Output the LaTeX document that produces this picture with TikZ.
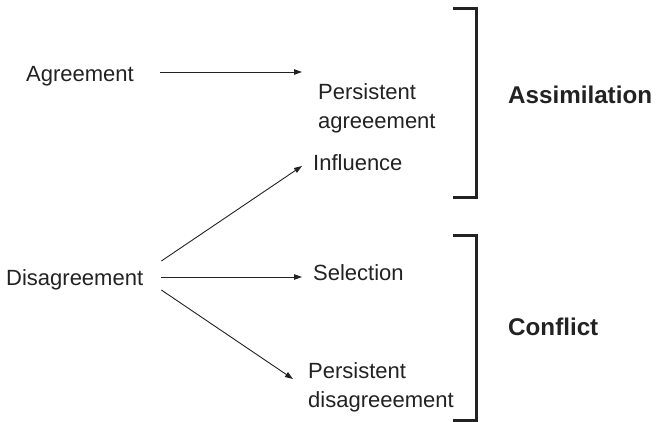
\documentclass[tikz,border=0pt]{standalone}
\usepackage{fontspec}
\setmainfont{Liberation Sans}
\usetikzlibrary{arrows.meta}
\definecolor{ink}{HTML}{222222}
\tikzset{
  txt/.style={inner sep=0pt, anchor=west, align=left, text=ink, font=\fontsize{22}{29}\selectfont},
  lbl/.style={inner sep=0pt, anchor=west, text=ink, font=\fontsize{24.2}{28}\selectfont\bfseries},
  arr/.style={draw=ink, line width=0.9pt, -{Triangle[length=8pt,width=5.5pt]}},
  br/.style={draw=ink, line width=3pt}
}
\begin{document}
\begin{tikzpicture}[x=1pt,y=-1pt]
\useasboundingbox (0,0) rectangle (656,422);
\node[txt] (agr) at (26,76) {Agreement};
\node[txt] (pag) at (318,108) {Persistent\\agreeement};
\node[txt] (inf) at (313,163) {Influence};
\node[txt] (dis) at (6,280) {Disagreement};
\node[txt] (sel) at (313,273) {Selection};
\node[txt] (pdis) at (308,387) {Persistent\\disagreeement};
\node[lbl] (assim) at (508,95) {Assimilation};
\node[lbl] (conf) at (508,327) {Conflict};
\draw[arr] ([shift={(26,-4)}]agr.east) -- ([shift={(-16,-36)}]pag.west);
\draw[arr] ([shift={(18,-19)}]dis.east) -- ([shift={(-11,3)}]inf.west);
\draw[arr] ([shift={(18,-3)}]dis.east) -- ([shift={(-11,4)}]sel.west);
\draw[arr] ([shift={(18,10)}]dis.east) -- ([shift={(-15,-8)}]pdis.west);
\draw[br] (453,9) -- (476,9) -- (476,198) -- (453,198);
\draw[br] (453,236) -- (476,236) -- (476,420) -- (453,420);
\end{tikzpicture}
\end{document}
